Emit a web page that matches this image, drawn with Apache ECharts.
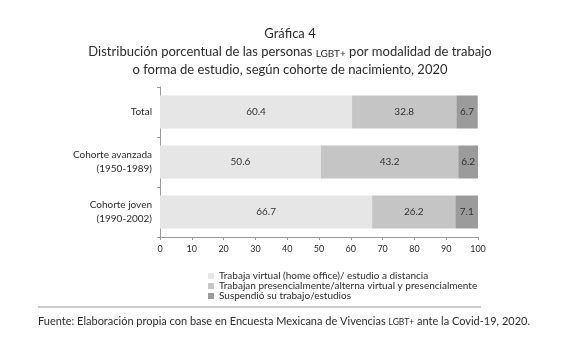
<!DOCTYPE html>
<html>
<head>
<meta charset="utf-8">
<script src="https://cdn.jsdelivr.net/npm/echarts@6/dist/echarts.min.js"></script>
<style>
  html, body { margin: 0; padding: 0; background: #fff; }
  #chart { width: 580px; height: 352px; }
</style>
</head>
<body>
<div id="chart"></div>
<script>
const categories = ['Total', 'Cohorte avanzada\n(1950-1989)', 'Cohorte joven\n(1990-2002)'];
const seriesNames = [
  'Trabaja virtual (home office)/ estudio a distancia',
  'Trabajan presencialmente/alterna virtual y presencialmente',
  'Suspendió su trabajo/estudios'
];
const virtualValues = [60.4, 50.6, 66.7];
const presencialValues = [32.8, 43.2, 26.2];
const suspendioValues = [6.7, 6.2, 7.1];
const xTicks = [0, 10, 20, 30, 40, 50, 60, 70, 80, 90, 100];

const font = 'Lato';
const colors = ['#e6e6e6', '#c5c5c5', '#9b9b9b'];

const chart = echarts.init(document.getElementById('chart'));

function barSeries(name, data, color) {
  return {
    name: name,
    type: 'bar',
    stack: 'total',
    data: data,
    barWidth: 33,
    itemStyle: { color: color },
    label: {
      show: true,
      position: 'inside',
      color: '#333',
      fontFamily: font,
      fontSize: 10,
      formatter: (p) => p.value.toFixed(1)
    }
  };
}

chart.setOption({
  backgroundColor: '#fff',
  animation: false,
  textStyle: { fontFamily: font },
  title: {
    left: 'center',
    top: 20,
    text: 'Gráfica 4\nDistribución porcentual de las personas {s|LGBT+} por modalidad de trabajo\no forma de estudio, según cohorte de nacimiento, 2020',
    textStyle: {
      fontFamily: font,
      fontSize: 13,
      fontWeight: 'normal',
      color: '#2b2b2b',
      lineHeight: 18,
      rich: {
        s: { fontFamily: font, fontSize: 10, color: '#2b2b2b', lineHeight: 18, verticalAlign: 'bottom', padding: [0, 0, 2, 0] }
      }
    }
  },
  legend: {
    orient: 'vertical',
    left: 208,
    top: 271,
    padding: 0,
    itemWidth: 6,
    itemHeight: 6,
    itemGap: 0,
    icon: 'rect',
    textStyle: { fontFamily: font, fontSize: 10, lineHeight: 10, color: '#2b2b2b' },
    data: seriesNames
  },
  grid: { left: 160, width: 318, top: 87, height: 150 },
  xAxis: {
    type: 'value',
    min: 0,
    max: 100,
    interval: 10,
    axisLine: { show: true, lineStyle: { color: '#999' } },
    axisTick: { show: true, length: 3, lineStyle: { color: '#999' } },
    splitLine: { show: false },
    axisLabel: { color: '#2b2b2b', fontSize: 9, fontFamily: font, margin: 8 }
  },
  yAxis: {
    type: 'category',
    inverse: true,
    data: categories,
    axisLine: { show: true, lineStyle: { color: '#999' } },
    axisTick: { show: true, length: 3, lineStyle: { color: '#999' } },
    axisLabel: { color: '#2b2b2b', fontSize: 10, fontFamily: font, margin: 8, lineHeight: 14, align: 'right' }
  },
  series: [
    barSeries(seriesNames[0], virtualValues, colors[0]),
    barSeries(seriesNames[1], presencialValues, colors[1]),
    barSeries(seriesNames[2], suspendioValues, colors[2])
  ],
  graphic: [
    {
      type: 'line',
      shape: { x1: 38, y1: 307, x2: 481, y2: 307 },
      style: { stroke: '#999', lineWidth: 1 }
    },
    {
      type: 'text',
      left: 38,
      top: 316,
      style: {
        text: 'Fuente: Elaboración propia con base en Encuesta Mexicana de Vivencias {s|LGBT+} ante la Covid-19, 2020.',
        fontFamily: font,
        fontSize: 11,
        fill: '#2b2b2b',
        rich: { s: { fontFamily: font, fontSize: 8.5, fill: '#2b2b2b', verticalAlign: 'bottom' } }
      }
    }
  ]
});
</script>
</body>
</html>
